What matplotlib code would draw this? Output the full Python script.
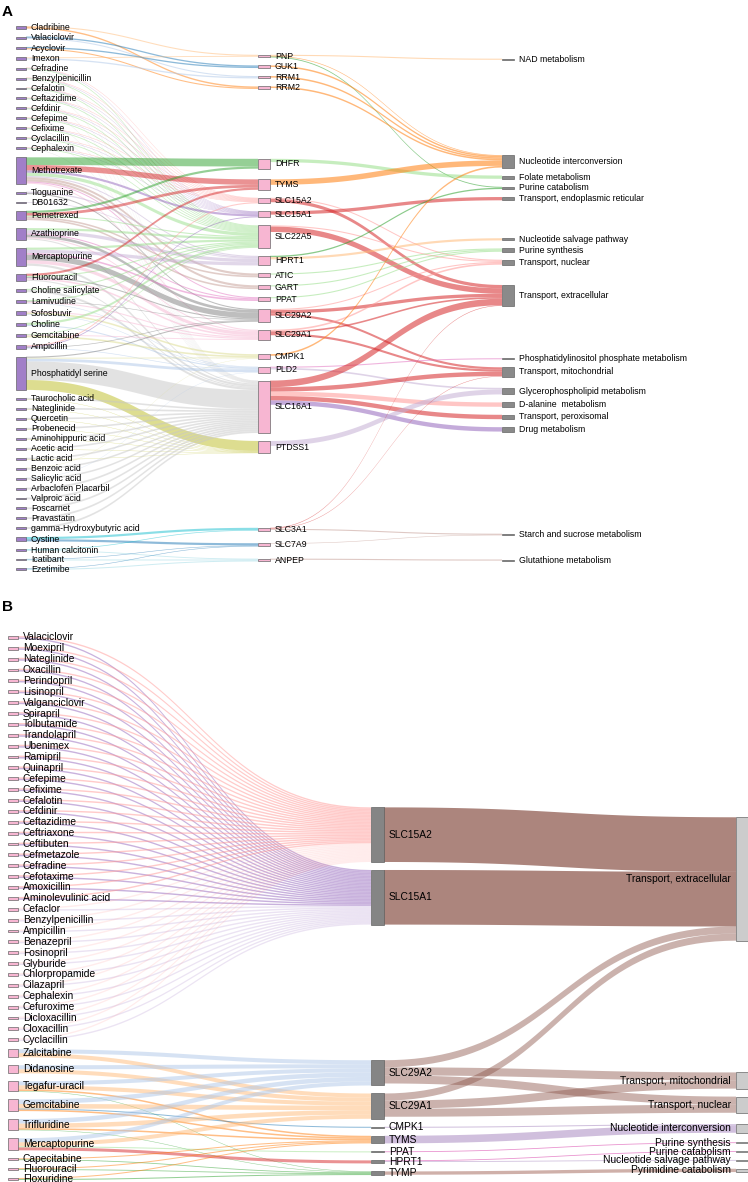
import matplotlib
matplotlib.use("Agg")
import matplotlib.pyplot as plt
import numpy as np
from collections import defaultdict
from matplotlib.collections import PolyCollection
from matplotlib.colors import to_rgba
from matplotlib.patches import Rectangle

plt.rcParams["font.family"] = ["Liberation Sans", "DejaVu Sans"]

# ---------------- panel A: drug -> target -> pathway ----------------
a_drugs = ["Cladribine", "Valaciclovir", "Acyclovir", "Imexon", "Cefradine",
           "Benzylpenicillin", "Cefalotin", "Ceftazidime", "Cefdinir", "Cefepime",
           "Cefixime", "Cyclacillin", "Cephalexin", "Methotrexate", "Tioguanine",
           "DB01632", "Pemetrexed", "Azathioprine", "Mercaptopurine", "Fluorouracil",
           "Choline salicylate", "Lamivudine", "Sofosbuvir", "Choline", "Gemcitabine",
           "Ampicillin", "Phosphatidyl serine", "Taurocholic acid", "Nateglinide",
           "Quercetin", "Probenecid", "Aminohippuric acid", "Acetic acid", "Lactic acid",
           "Benzoic acid", "Salicylic acid", "Arbaclofen Placarbil", "Valproic acid",
           "Foscarnet", "Pravastatin", "gamma-Hydroxybutyric acid", "Cystine",
           "Human calcitonin", "Icatibant", "Ezetimibe"]
a_genes = ["PNP", "GUK1", "RRM1", "RRM2", "DHFR", "TYMS", "SLC15A2", "SLC15A1",
           "SLC22A5", "HPRT1", "ATIC", "GART", "PPAT", "SLC29A2", "SLC29A1", "CMPK1",
           "PLD2", "SLC16A1", "PTDSS1", "SLC3A1", "SLC7A9", "ANPEP"]
a_paths = ["NAD metabolism", "Nucleotide interconversion", "Folate metabolism",
           "Purine catabolism", "Transport, endoplasmic reticular",
           "Nucleotide salvage pathway", "Purine synthesis", "Transport, nuclear",
           "Transport, extracellular", "Phosphatidylinositol phosphate metabolism",
           "Transport, mitochondrial", "Glycerophospholipid metabolism",
           "D-alanine  metabolism", "Transport, peroxisomal", "Drug metabolism",
           "Starch and sucrose metabolism", "Glutathione metabolism"]

a_drug_gene = [
    ("Cladribine", "PNP", 1.0), ("Cladribine", "RRM2", 1.3),
    ("Valaciclovir", "GUK1", 1.2), ("Valaciclovir", "RRM1", 1.0),
    ("Acyclovir", "GUK1", 1.2), ("Acyclovir", "RRM2", 1.0),
    ("Imexon", "RRM1", 1.2), ("Imexon", "PNP", 0.8),
    ("Cefradine", "SLC15A2", 0.45), ("Cefradine", "SLC15A1", 0.3), ("Cefradine", "SLC22A5", 0.75), ("Cefradine", "SLC16A1", 0.3),
    ("Benzylpenicillin", "SLC15A2", 0.45), ("Benzylpenicillin", "SLC15A1", 0.3), ("Benzylpenicillin", "SLC22A5", 0.75), ("Benzylpenicillin", "SLC16A1", 0.3),
    ("Cefalotin", "SLC15A2", 0.45), ("Cefalotin", "SLC15A1", 0.3), ("Cefalotin", "SLC22A5", 0.75), ("Cefalotin", "SLC16A1", 0.3),
    ("Ceftazidime", "SLC15A2", 0.45), ("Ceftazidime", "SLC15A1", 0.3), ("Ceftazidime", "SLC22A5", 0.75), ("Ceftazidime", "SLC16A1", 0.3),
    ("Cefdinir", "SLC15A2", 0.45), ("Cefdinir", "SLC15A1", 0.3), ("Cefdinir", "SLC22A5", 0.75), ("Cefdinir", "SLC16A1", 0.3),
    ("Cefepime", "SLC15A2", 0.45), ("Cefepime", "SLC15A1", 0.3), ("Cefepime", "SLC22A5", 0.75), ("Cefepime", "SLC16A1", 0.3),
    ("Cefixime", "SLC15A2", 0.45), ("Cefixime", "SLC15A1", 0.3), ("Cefixime", "SLC22A5", 0.75), ("Cefixime", "SLC16A1", 0.3),
    ("Cyclacillin", "SLC15A2", 0.45), ("Cyclacillin", "SLC15A1", 0.3), ("Cyclacillin", "SLC22A5", 0.75), ("Cyclacillin", "SLC16A1", 0.3),
    ("Cephalexin", "SLC15A2", 0.45), ("Cephalexin", "SLC15A1", 0.3), ("Cephalexin", "SLC22A5", 0.75), ("Cephalexin", "SLC16A1", 0.3),
    ("Methotrexate", "DHFR", 7.0), ("Methotrexate", "TYMS", 5.0), ("Methotrexate", "ATIC", 2.0),
    ("Methotrexate", "GART", 2.0), ("Methotrexate", "SLC22A5", 3.0), ("Methotrexate", "SLC15A1", 2.0),
    ("Methotrexate", "SLC29A1", 1.0), ("Methotrexate", "HPRT1", 1.0), ("Methotrexate", "PPAT", 1.0),
    ("Tioguanine", "HPRT1", 1.2), ("Tioguanine", "SLC29A2", 1.0),
    ("DB01632", "HPRT1", 0.6),
    ("Pemetrexed", "DHFR", 2.0), ("Pemetrexed", "TYMS", 2.5), ("Pemetrexed", "GART", 1.5),
    ("Pemetrexed", "ATIC", 1.5), ("Pemetrexed", "SLC22A5", 1.0),
    ("Azathioprine", "SLC22A5", 2.0), ("Azathioprine", "HPRT1", 3.0), ("Azathioprine", "SLC29A2", 2.5),
    ("Azathioprine", "PPAT", 1.0), ("Azathioprine", "SLC29A1", 1.0), ("Azathioprine", "SLC16A1", 1.0),
    ("Mercaptopurine", "SLC22A5", 2.0), ("Mercaptopurine", "HPRT1", 3.0), ("Mercaptopurine", "SLC29A2", 5.0),
    ("Mercaptopurine", "SLC29A1", 3.0), ("Mercaptopurine", "PPAT", 1.5), ("Mercaptopurine", "SLC16A1", 2.0),
    ("Fluorouracil", "TYMS", 2.0), ("Fluorouracil", "SLC22A5", 1.0), ("Fluorouracil", "SLC29A1", 1.5),
    ("Fluorouracil", "SLC29A2", 1.0), ("Fluorouracil", "SLC16A1", 1.0),
    ("Choline salicylate", "SLC22A5", 1.0), ("Choline salicylate", "SLC16A1", 2.0),
    ("Lamivudine", "SLC22A5", 1.0), ("Lamivudine", "SLC29A1", 1.0), ("Lamivudine", "SLC29A2", 0.5), ("Lamivudine", "PLD2", 0.5),
    ("Sofosbuvir", "CMPK1", 1.5), ("Sofosbuvir", "SLC29A1", 1.0), ("Sofosbuvir", "PLD2", 0.5),
    ("Choline", "SLC22A5", 2.0), ("Choline", "PLD2", 1.0),
    ("Gemcitabine", "CMPK1", 1.5), ("Gemcitabine", "SLC29A1", 0.8), ("Gemcitabine", "SLC22A5", 0.7),
    ("Ampicillin", "SLC15A2", 1.0), ("Ampicillin", "SLC15A1", 0.8), ("Ampicillin", "SLC29A2", 0.6), ("Ampicillin", "PLD2", 0.6),
    ("Phosphatidyl serine", "SLC16A1", 17.0), ("Phosphatidyl serine", "PTDSS1", 9.0), ("Phosphatidyl serine", "PLD2", 2.5),
    ("Phosphatidyl serine", "CMPK1", 0.8), ("Phosphatidyl serine", "SLC29A2", 1.0),
    ("Taurocholic acid", "SLC16A1", 1.5), ("Taurocholic acid", "PTDSS1", 0.3),
    ("Nateglinide", "SLC16A1", 1.5), ("Nateglinide", "PTDSS1", 0.3),
    ("Quercetin", "SLC16A1", 1.5), ("Quercetin", "PTDSS1", 0.3),
    ("Probenecid", "SLC16A1", 1.5), ("Probenecid", "PTDSS1", 0.3),
    ("Aminohippuric acid", "SLC16A1", 1.5), ("Aminohippuric acid", "PTDSS1", 0.3),
    ("Acetic acid", "SLC16A1", 1.5), ("Acetic acid", "PTDSS1", 0.3),
    ("Lactic acid", "SLC16A1", 1.5), ("Lactic acid", "PTDSS1", 0.3),
    ("Benzoic acid", "SLC16A1", 1.5), ("Benzoic acid", "CMPK1", 0.3),
    ("Salicylic acid", "SLC16A1", 1.5), ("Salicylic acid", "PLD2", 0.3),
    ("Arbaclofen Placarbil", "SLC16A1", 1.7),
    ("Valproic acid", "SLC16A1", 1.7),
    ("Foscarnet", "SLC16A1", 1.7),
    ("Pravastatin", "SLC16A1", 1.7),
    ("gamma-Hydroxybutyric acid", "SLC16A1", 1.7),
    ("Cystine", "SLC3A1", 2.0), ("Cystine", "SLC7A9", 2.0),
    ("Human calcitonin", "ANPEP", 0.8), ("Human calcitonin", "SLC3A1", 0.6),
    ("Icatibant", "ANPEP", 0.9), ("Icatibant", "SLC7A9", 0.5),
    ("Ezetimibe", "ANPEP", 0.9), ("Ezetimibe", "SLC7A9", 0.5),
]

a_gene_path = [
    ("PNP", "NAD metabolism", 1.0), ("PNP", "Nucleotide interconversion", 0.6), ("PNP", "Purine catabolism", 0.8),
    ("GUK1", "Nucleotide interconversion", 1.4), ("RRM1", "Nucleotide interconversion", 1.4),
    ("RRM2", "Nucleotide interconversion", 1.4),
    ("DHFR", "Folate metabolism", 3.0),
    ("TYMS", "Nucleotide interconversion", 5.0),
    ("SLC15A2", "Transport, extracellular", 3.0), ("SLC15A2", "Transport, nuclear", 1.0),
    ("SLC15A1", "Transport, endoplasmic reticular", 3.0),
    ("SLC22A5", "Transport, extracellular", 5.0), ("SLC22A5", "Transport, nuclear", 1.0),
    ("HPRT1", "Purine catabolism", 1.2), ("HPRT1", "Nucleotide salvage pathway", 2.0),
    ("ATIC", "Purine synthesis", 1.0), ("GART", "Purine synthesis", 1.0), ("PPAT", "Purine synthesis", 1.0),
    ("SLC29A2", "Transport, extracellular", 3.0), ("SLC29A2", "Transport, mitochondrial", 2.0),
    ("SLC29A2", "Transport, nuclear", 1.0),
    ("SLC29A1", "Transport, mitochondrial", 2.0), ("SLC29A1", "Transport, nuclear", 1.5),
    ("SLC29A1", "Transport, extracellular", 1.5),
    ("CMPK1", "Nucleotide interconversion", 1.5),
    ("PLD2", "Phosphatidylinositol phosphate metabolism", 1.0), ("PLD2", "Glycerophospholipid metabolism", 1.5),
    ("SLC16A1", "Transport, extracellular", 6.0), ("SLC16A1", "Transport, mitochondrial", 4.0),
    ("SLC16A1", "D-alanine  metabolism", 4.0), ("SLC16A1", "Transport, peroxisomal", 4.0),
    ("SLC16A1", "Drug metabolism", 4.0),
    ("PTDSS1", "Glycerophospholipid metabolism", 4.5),
    ("SLC3A1", "Starch and sucrose metabolism", 1.0), ("SLC3A1", "Transport, extracellular", 0.5),
    ("SLC3A1", "Transport, mitochondrial", 0.4),
    ("SLC7A9", "Starch and sucrose metabolism", 0.5),
    ("ANPEP", "Glutathione metabolism", 1.0),
]

# ---------------- panel B ----------------
b_peptide_drugs = ["Valaciclovir", "Moexipril", "Nateglinide", "Oxacillin", "Perindopril",
                   "Lisinopril", "Valganciclovir", "Spirapril", "Tolbutamide", "Trandolapril",
                   "Ubenimex", "Ramipril", "Quinapril", "Cefepime", "Cefixime", "Cefalotin",
                   "Cefdinir", "Ceftazidime", "Ceftriaxone", "Ceftibuten", "Cefmetazole",
                   "Cefradine", "Cefotaxime", "Amoxicillin", "Aminolevulinic acid", "Cefaclor",
                   "Benzylpenicillin", "Ampicillin", "Benazepril", "Fosinopril", "Glyburide",
                   "Chlorpropamide", "Cilazapril", "Cephalexin", "Cefuroxime", "Dicloxacillin",
                   "Cloxacillin", "Cyclacillin"]
b_other_drugs = ["Zalcitabine", "Didanosine", "Tegafur-uracil", "Gemcitabine", "Trifluridine",
                 "Mercaptopurine", "Capecitabine", "Fluorouracil", "Floxuridine"]
b_genes = ["SLC15A2", "SLC15A1", "SLC29A2", "SLC29A1", "CMPK1", "TYMS", "PPAT", "HPRT1", "TYMP"]
b_paths = ["Transport, extracellular", "Transport, mitochondrial", "Transport, nuclear",
           "Nucleotide interconversion", "Purine synthesis", "Purine catabolism",
           "Nucleotide salvage pathway", "Pyrimidine catabolism"]

b_peptide_value = 1.42   # each peptide drug -> SLC15A2 and -> SLC15A1
b_drug_gene = [
    ("Zalcitabine", "SLC29A2", 4.0), ("Zalcitabine", "SLC29A1", 4.0),
    ("Didanosine", "SLC29A2", 4.0), ("Didanosine", "SLC29A1", 4.0),
    ("Tegafur-uracil", "SLC29A2", 4.0), ("Tegafur-uracil", "SLC29A1", 4.0),
    ("Tegafur-uracil", "TYMS", 1.5), ("Tegafur-uracil", "TYMP", 0.5),
    ("Gemcitabine", "SLC29A2", 4.5), ("Gemcitabine", "SLC29A1", 4.5),
    ("Gemcitabine", "CMPK1", 1.0), ("Gemcitabine", "TYMS", 1.5),
    ("Trifluridine", "SLC29A2", 4.5), ("Trifluridine", "SLC29A1", 4.5),
    ("Trifluridine", "TYMS", 1.5), ("Trifluridine", "TYMP", 0.5),
    ("Mercaptopurine", "SLC29A2", 4.0), ("Mercaptopurine", "SLC29A1", 4.0),
    ("Mercaptopurine", "HPRT1", 3.0), ("Mercaptopurine", "PPAT", 1.0),
    ("Capecitabine", "TYMS", 1.0), ("Capecitabine", "TYMP", 0.8),
    ("Fluorouracil", "TYMS", 1.0), ("Fluorouracil", "TYMP", 0.8),
    ("Floxuridine", "TYMS", 1.0), ("Floxuridine", "TYMP", 1.0),
]
b_gene_path = [
    ("SLC15A2", "Transport, extracellular", 54.0),
    ("SLC15A1", "Transport, extracellular", 54.0),
    ("SLC29A2", "Transport, extracellular", 7.0), ("SLC29A2", "Transport, mitochondrial", 8.0),
    ("SLC29A2", "Transport, nuclear", 8.0),
    ("SLC29A1", "Transport, extracellular", 7.0), ("SLC29A1", "Transport, mitochondrial", 8.0),
    ("SLC29A1", "Transport, nuclear", 8.0),
    ("CMPK1", "Nucleotide interconversion", 1.0),
    ("TYMS", "Nucleotide interconversion", 7.5),
    ("PPAT", "Purine synthesis", 0.8),
    ("HPRT1", "Purine catabolism", 0.8), ("HPRT1", "Nucleotide salvage pathway", 0.8),
    ("TYMP", "Pyrimidine catabolism", 3.3),
]

# ---------------- colours ----------------
a_gene_colors = {"PNP": "#ffbb78", "GUK1": "#1f77b4", "RRM1": "#aec7e8", "RRM2": "#ff7f0e",
                 "DHFR": "#2ca02c", "TYMS": "#d62728", "SLC15A2": "#ff9896", "SLC15A1": "#9467bd",
                 "SLC22A5": "#98df8a", "HPRT1": "#c5b0d5", "ATIC": "#c49c94", "GART": "#c49c94",
                 "PPAT": "#e377c2", "SLC29A2": "#7f7f7f", "SLC29A1": "#f7b6d2", "CMPK1": "#dbdb8d",
                 "PLD2": "#aec7e8", "SLC16A1": "#c7c7c7", "PTDSS1": "#bcbd22", "SLC3A1": "#17becf",
                 "SLC7A9": "#1f77b4", "ANPEP": "#9edae5"}
a_path_colors = {"NAD metabolism": "#ffbb78", "Nucleotide interconversion": "#ff7f0e",
                 "Folate metabolism": "#98df8a", "Purine catabolism": "#2ca02c",
                 "Transport, endoplasmic reticular": "#d62728",
                 "Nucleotide salvage pathway": "#ffbb78", "Purine synthesis": "#98df8a",
                 "Transport, nuclear": "#ff9896", "Transport, extracellular": "#d62728",
                 "Phosphatidylinositol phosphate metabolism": "#e377c2",
                 "Transport, mitochondrial": "#d62728", "Glycerophospholipid metabolism": "#c5b0d5",
                 "D-alanine  metabolism": "#ff9896", "Transport, peroxisomal": "#d62728",
                 "Drug metabolism": "#9467bd", "Starch and sucrose metabolism": "#c49c94",
                 "Glutathione metabolism": "#c49c94"}
b_gene_colors = {"SLC15A2": "#ff9896", "SLC15A1": "#9467bd", "SLC29A2": "#aec7e8",
                 "SLC29A1": "#ffbb78", "CMPK1": "#1f77b4", "TYMS": "#ff7f0e", "PPAT": "#98df8a",
                 "HPRT1": "#d62728", "TYMP": "#2ca02c"}
b_path_colors = {"Transport, extracellular": "#8c564b", "Transport, mitochondrial": "#8c564b",
                 "Transport, nuclear": "#8c564b", "Nucleotide interconversion": "#c5b0d5",
                 "Purine synthesis": "#e377c2", "Purine catabolism": "#e377c2",
                 "Nucleotide salvage pathway": "#c5b0d5", "Pyrimidine catabolism": "#c49c94"}
b_faint = set(b_peptide_drugs[b_peptide_drugs.index("Cefaclor"):])


def sankey(ax, columns, links, xs, ws, top, bottom, pad, node_fc, colour,
           label_left, fs, iters=32):
    # relaxation layout (d3-sankey style); overlaps settled by a blend of the
    # classic push-down pass and a weighted isotonic fit
    node_col = {n: ci for ci, col in enumerate(columns) for n in col}
    vin, vout = defaultdict(float), defaultdict(float)
    right, left = defaultdict(list), defaultdict(list)
    for s, t, v in links:
        vout[s] += v
        vin[t] += v
        right[s].append((t, v))
        left[t].append((s, v))
    val = {n: max(vin[n], vout[n]) for n in node_col}
    ky = min((bottom - top - (len(c) - 1) * pad) / sum(val[n] for n in c) for c in columns)
    h = {n: val[n] * ky for n in node_col}
    y = {n: top + i for c in columns for i, n in enumerate(c)}

    def mid(n):
        return y[n] + h[n] / 2

    def resolve():
        for c in columns:
            # push-down pass
            yd, cur = {}, top
            for n in c:
                yd[n] = max(y[n], cur)
                cur = yd[n] + h[n] + pad
            nxt = bottom + pad
            for n in reversed(c):
                yd[n] = min(yd[n], nxt - pad - h[n])
                nxt = yd[n]
            # isotonic fit
            off, acc = [], 0.0
            for n in c:
                off.append(acc)
                acc += h[n] + pad
            blocks = []
            for i, n in enumerate(c):
                blocks.append([y[n] - off[i], np.sqrt(val[n]), 1])
                while len(blocks) > 1 and blocks[-2][0] > blocks[-1][0]:
                    v2, w2, k2 = blocks.pop()
                    v1, w1, k1 = blocks.pop()
                    blocks.append([(v1 * w1 + v2 * w2) / (w1 + w2), w1 + w2, k1 + k2])
            z = [b[0] for b in blocks for _ in range(b[2])]
            hi = bottom - off[-1] - h[c[-1]]
            for i, n in enumerate(c):
                yp = min(max(z[i], top), hi) + off[i]
                y[n] = 0.6 * yd[n] + 0.4 * yp

    def relax(order, nbrs, a):
        for c in order:
            for n in c:
                if nbrs[n]:
                    w = sum(v for _, v in nbrs[n])
                    target = sum(mid(m) * v for m, v in nbrs[n]) / w
                    y[n] += (target - mid(n)) * a

    resolve()
    a = 1.0
    for _ in range(iters):
        a *= 0.99
        relax(columns[::-1], right, a)
        resolve()
        relax(columns, left, a)
        resolve()

    out_off, in_off = {}, {}
    for n in node_col:
        off = y[n]
        for t, v in sorted(right[n], key=lambda e: mid(e[0])):
            out_off[(n, t)] = off
            off += v * ky
        off = y[n]
        for s, v in sorted(left[n], key=lambda e: mid(e[0])):
            in_off[(s, n)] = off
            off += v * ky

    tt = np.linspace(0, 1, 50)
    ease = 3 * tt ** 2 - 2 * tt ** 3
    polys, fcs = [], []
    for s, t, v in links:
        x0 = xs[node_col[s]] + ws[node_col[s]]
        x1 = xs[node_col[t]]
        xm = (x0 + x1) / 2
        bx = (1 - tt) ** 3 * x0 + 3 * (1 - tt) ** 2 * tt * xm + 3 * (1 - tt) * tt ** 2 * xm + tt ** 3 * x1
        ya, yb = out_off[(s, t)], in_off[(s, t)]
        w = v * ky
        ytop = ya + (yb - ya) * ease
        polys.append(np.column_stack([np.r_[bx, bx[::-1]], np.r_[ytop, (ytop + w)[::-1]]]))
        col, al = colour(s, t)
        fcs.append(to_rgba(col, al))
    ax.add_collection(PolyCollection(polys, facecolors=fcs, edgecolors="none", zorder=1))

    for n, ci in node_col.items():
        ax.add_patch(Rectangle((xs[ci], y[n]), ws[ci], max(h[n], 0.6), facecolor=node_fc[ci],
                               edgecolor="#5a5a5a", linewidth=0.45, zorder=3))
        if label_left[ci]:
            ax.text(xs[ci] - 5, mid(n), n, ha="right", va="center", fontsize=fs, zorder=4)
        else:
            ax.text(xs[ci] + ws[ci] + 5, mid(n), n, ha="left", va="center", fontsize=fs, zorder=4)


def colour_a(s, t):
    if t in a_gene_colors:
        return a_gene_colors[t], 0.5
    return a_path_colors[t], 0.55


def colour_b(s, t):
    if t in b_gene_colors:
        if s in b_faint:
            return b_gene_colors[t], 0.18
        return b_gene_colors[t], 0.5
    if s in ("SLC15A2", "SLC15A1"):
        return b_path_colors[t], 0.72
    if s in ("SLC29A2", "SLC29A1"):
        return b_path_colors[t], 0.45
    return b_path_colors[t], 0.8


links_b = [(d, g, b_peptide_value) for d in b_peptide_drugs for g in ("SLC15A2", "SLC15A1")]
links_b += b_drug_gene + b_gene_path

fig = plt.figure(figsize=(7.48, 11.82), dpi=100)
ax = fig.add_axes([0, 0, 1, 1])
ax.set_xlim(0, 748)
ax.set_ylim(1182, 0)
ax.axis("off")

sankey(ax, [a_drugs, a_genes, a_paths], a_drug_gene + a_gene_path,
       xs=[16, 258, 502], ws=[10, 12, 12], top=26, bottom=570, pad=8.0,
       node_fc=["#a17fc8", "#f7b6d2", "#8a8a8a"], colour=colour_a,
       label_left=[False, False, False], fs=6.3)

sankey(ax, [b_peptide_drugs + b_other_drugs, b_genes, b_paths], links_b,
       xs=[8, 371, 736], ws=[10, 13, 12], top=636, bottom=1180, pad=8.0,
       node_fc=["#f7b6d2", "#858585", "#cccccc"], colour=colour_b,
       label_left=[False, False, True], fs=7.4)

ax.text(2, 12, "A", fontsize=11, fontweight="bold", ha="left", va="center")
ax.text(2, 607, "B", fontsize=11, fontweight="bold", ha="left", va="center")

fig.savefig("out.png", dpi=100)
plt.close(fig)
